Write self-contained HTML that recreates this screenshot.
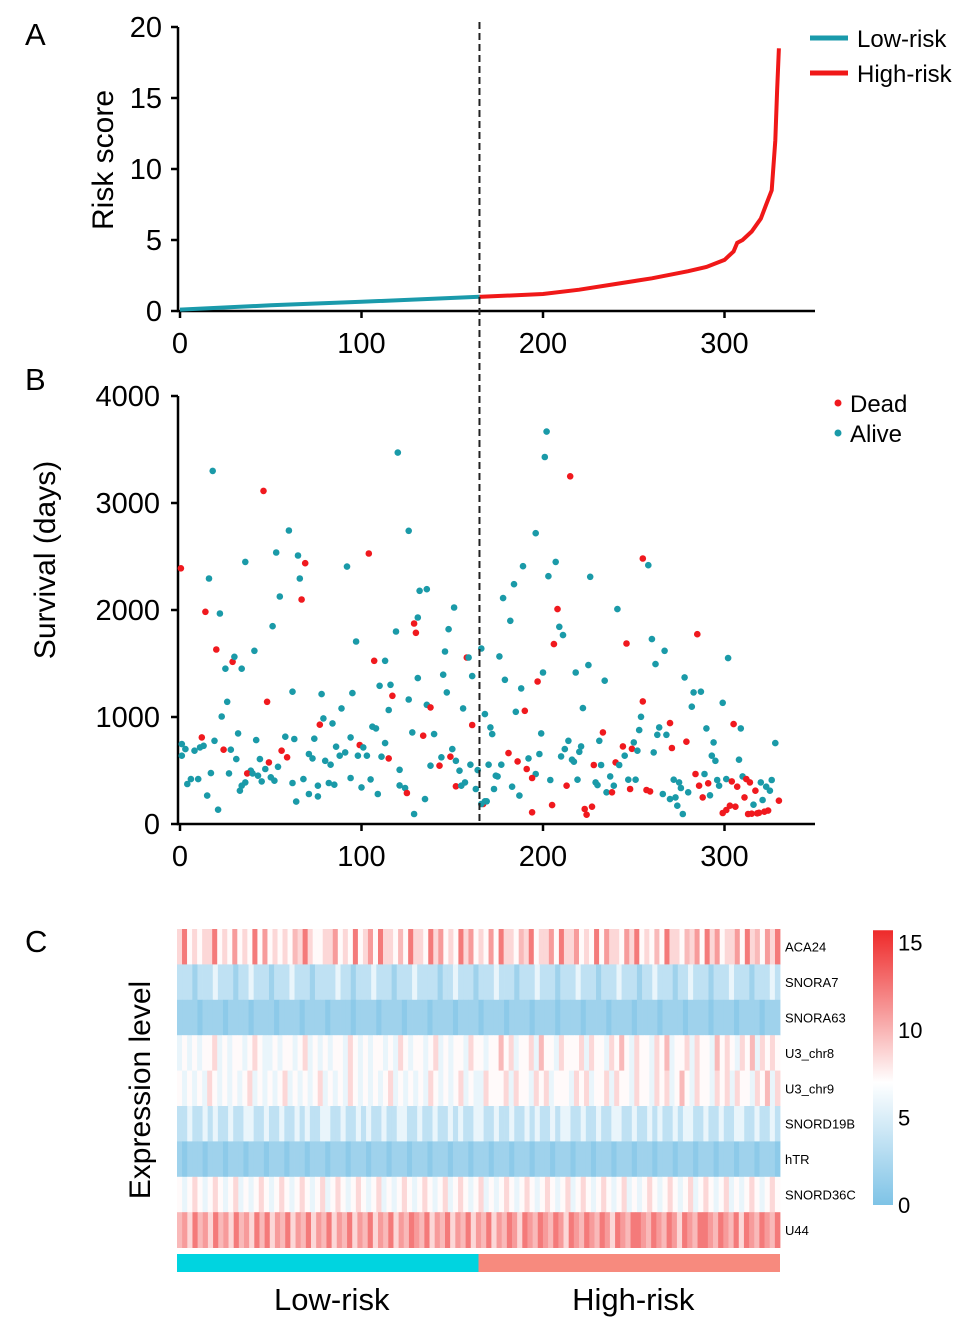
<!DOCTYPE html>
<html><head><meta charset="utf-8"><style>
html,body{margin:0;padding:0;background:#fff;}
svg{display:block;font-family:"Liberation Sans",Arial,sans-serif;}
</style></head><body>
<svg id="chart" width="969" height="1330" viewBox="0 0 969 1330" xmlns="http://www.w3.org/2000/svg">
<g id="gA"></g>
<g id="gB"></g>
<g id="gC"></g>
</svg>
<script>
// ---- Panel A data ----
const riskIdx = [0,50,100,165,166,200,220,240,260,280,290,300,305,307,310,315,320,323,326,328,329,330];
const riskScore = [0.1,0.4,0.65,1.0,1.0,1.2,1.5,1.9,2.3,2.8,3.1,3.6,4.2,4.8,5.0,5.6,6.5,7.5,8.5,12,15.5,18.5];
const cutoffIdx = 165;
const riskTicksY = [0,5,10,15,20];
const xTicks = [0,100,200,300];
// ---- Panel B data ----
const survIdx = [18,120,46,60,126,53,104,65,69,36,92,0.5,16,66,55,67,132,136,14,22,151,51,129,119,131,130,148,20,41,97,146,158,159,166,25,29,30,34,107,113,145,161,131,26,48,62,78,95,110,116,117,115,126,136,138,147,156,23,32,79,84,77,89,106,108,161,128,134,140,94,58,63,74,12,1,3,8,11,13,19,24,28,42,31,56,113,99,101,86,150,1,71,73,44,49,59,80,83,88,91,98,103,111,115,144,149,152,160,54,138,143,154,164,17,27,39,37,47,121,4,6,10,36,34,33,40,43,45,50,52,62,68,76,82,85,94,100,105,121,124,125,135,152,155,157,163,167,15,21,64,71,76,109,129,
202,201,215,196,255,258,189,207,203,226,184,178,208,241,182,209,206,211,246,260,285,267,262,302,176,218,225,179,197,200,234,188,278,283,287,282,299,185,190,222,255,254,168,171,172,199,233,253,270,264,263,268,305,309,290,231,214,212,210,221,220,216,217,250,249,252,244,245,271,279,294,328,293,295,308,261,181,198,186,192,191,170,177,174,175,196,194,204,228,232,240,242,229,230,237,235,238,239,219,213,247,251,248,257,259,272,275,276,266,270,273,274,277,280,284,289,286,291,288,292,296,297,301,304,307,310,312,314,317,320,323,325,326,321,311,316,330,299,301,303,306,313,315,318,319,322,324,224,223,227,205,194,187,183,173,168,169,166];
const survDays = [3300,3471,3113,2743,2740,2537,2528,2509,2437,2450,2406,2390,2294,2294,2126,2098,2179,2194,1983,1967,2023,1849,1874,1799,1930,1787,1821,1631,1619,1706,1612,1556,1556,1640,1451,1516,1563,1451,1525,1525,1395,1382,1364,1142,1142,1236,1214,1223,1292,1301,1198,1065,1164,1114,1090,1230,1080,1005,847,987,940,928,1080,909,893,925,856,825,840,809,816,794,797,809,747,700,685,716,731,778,694,694,784,607,685,756,738,716,722,700,638,654,613,607,576,623,591,554,638,669,638,638,629,613,623,629,591,554,535,545,545,498,504,476,473,498,473,514,507,374,420,420,389,358,311,473,451,398,436,405,383,420,358,383,367,430,342,417,361,336,290,233,352,358,389,327,187,265,134,209,280,258,280,93,
3667,3430,3250,2718,2481,2419,2409,2450,2316,2310,2241,2111,2008,2008,1899,1843,1681,1765,1687,1728,1774,1619,1494,1550,1566,1416,1485,1348,1332,1416,1339,1267,1370,1230,1236,1096,1133,1049,1058,1083,1146,1002,1027,903,840,847,856,878,943,903,834,834,934,893,893,778,778,700,632,725,675,601,582,763,703,685,725,638,710,769,763,756,638,591,601,669,663,654,585,613,514,554,554,451,445,467,430,411,551,551,576,551,389,364,445,296,296,358,414,358,414,414,327,318,305,414,389,336,280,233,249,171,93,296,467,467,358,380,249,268,411,358,420,398,349,445,420,389,311,389,349,311,411,224,249,180,218,103,131,171,162,93,96,100,105,115,125,87,140,162,177,109,265,349,327,212,212,187];
const survDead = "0010001010010001001000100101000100010010000010000010001000000100010100000100000010001010000000110000000101000010000010000000000000000000000010100010000000001010000000100010101000000010000000"+"001010000010100010000000000010101100000010101000001010100000100100111000000000101110000110111000001011111111111111110000000000111111111111";
const survTicksY = [0,1000,2000,3000,4000];
// ---- Panel C data ----
const genes = ["ACA24","SNORA7","SNORA63","U3_chr8","U3_chr9","SNORD19B","hTR","SNORD36C","U44"];
const exprRows = [
"584545584547454847454546585445574548457485546485548574548574547485546584557485574548475547584546485546574857455748564758",
"2221222322212232221222322212222322122232221222322221223222122232221222322212223222122232221223222122322212223222122232",
"1111011110111101111011110111101111011110111101111011110111101111011110111101111011110111101111011110111101111011110111",
"343434453434434543343443453434344354343443435434434534344354434464534453644354445354435464354435463445354436454354635454",
"434343543434345343434534343453434354343434534343435434345343354445354435453444354534453544354435453464354435453544354635",
"2232232322322332232232232322332232232322322332232232232322332232232232322323322322322332232232322323322322322332232232",
"1011101110111011101110111011101110111011101110111011101110111011101110111011101110111011101110111011101110111011101110",
"4345434543453434543454345434534543454345343454345434534543453434543454345434534543454345343454345434534543453434543454",
"675867586758675868576857685768576857685768576876857685768576857687587687687587687687587688768768758768876876858768768"
];
const digitValue = [0.8,1.8,3.5,5.8,7.2,8.6,9.8,11,12.3,14];
const cbarTicks = [0,5,10,15];
const groupLabels = ["Low-risk","High-risk"];

const NS="http://www.w3.org/2000/svg";
function mk(parent,tag,attrs,text){const e=document.createElementNS(NS,tag);for(const k in attrs)e.setAttribute(k,attrs[k]);if(text!==undefined)e.textContent=text;parent.appendChild(e);return e;}
const xS = i => 180 + i*1.815;
const yA = v => 311 - v*14.2;
const yB = d => 824 - d*0.107;
const TF = 29;

// ---------- Panel A ----------
const gA=document.getElementById('gA');
let t=mk(gA,'text',{x:25,y:45,'font-size':31});t.textContent='A';


let ax=mk(gA,'path',{d:'M178 27 V311 H815',fill:'none',stroke:'#000','stroke-width':2.5});


riskTicksY.forEach(v=>{
  mk(gA,'line',{x1:171,x2:178,y1:yA(v),y2:yA(v),stroke:'#000','stroke-width':2.5});
  const l=mk(gA,'text',{x:162,y:yA(v)+10,'font-size':TF,'text-anchor':'end'},String(v));
  
  
});
xTicks.forEach(v=>{
  mk(gA,'line',{x1:xS(v),x2:xS(v),y1:311,y2:318,stroke:'#000','stroke-width':2.5});
  const l=mk(gA,'text',{x:xS(v),y:353,'font-size':TF,'text-anchor':'middle'},String(v));
  
  
});
t=mk(gA,'text',{x:0,y:0,'font-size':30,'text-anchor':'middle',transform:'translate(113,160) rotate(-90)'},'Risk score');


let lowPts=[],highPts=[];
riskIdx.forEach((i,k)=>{const p=xS(i).toFixed(1)+','+yA(riskScore[k]).toFixed(1);if(i<=cutoffIdx)lowPts.push(p);if(i>=cutoffIdx)highPts.push(p);});
let ln=mk(gA,'polyline',{points:lowPts.join(' '),fill:'none',stroke:'#1a9aab','stroke-width':4});


ln=mk(gA,'polyline',{points:highPts.join(' '),fill:'none',stroke:'#f01818','stroke-width':4});


[['Low-risk','#1a9aab',38],['High-risk','#f01818',73]].forEach(([lab,c,y])=>{
  const g=mk(gA,'g',{});
  
  
  mk(g,'line',{x1:810,x2:848,y1:y,y2:y,stroke:c,'stroke-width':5});
  mk(g,'text',{x:857,y:y+9,'font-size':24},lab);
});

// cutoff line
let cl=mk(document.getElementById('chart'),'line',{x1:xS(cutoffIdx),x2:xS(cutoffIdx),y1:22,y2:824,stroke:'#222','stroke-width':2,'stroke-dasharray':'7,4'});



// ---------- Panel B ----------
const gB=document.getElementById('gB');
t=mk(gB,'text',{x:25,y:390,'font-size':31},'B');


ax=mk(gB,'path',{d:'M178 396 V824 H815',fill:'none',stroke:'#000','stroke-width':2.5});


survTicksY.forEach(v=>{
  mk(gB,'line',{x1:171,x2:178,y1:yB(v),y2:yB(v),stroke:'#000','stroke-width':2.5});
  const l=mk(gB,'text',{x:160,y:yB(v)+10,'font-size':TF,'text-anchor':'end'},String(v));
  
  
});
xTicks.forEach(v=>{
  mk(gB,'line',{x1:xS(v),x2:xS(v),y1:824,y2:831,stroke:'#000','stroke-width':2.5});
  const l=mk(gB,'text',{x:xS(v),y:866,'font-size':TF,'text-anchor':'middle'},String(v));
  
  
});
t=mk(gB,'text',{x:0,y:0,'font-size':30,'text-anchor':'middle',transform:'translate(55,560) rotate(-90)'},'Survival (days)');


survIdx.forEach((i,k)=>{
  const dead=survDead[k]==='1';
  const c=mk(gB,'circle',{cx:xS(i).toFixed(1),cy:yB(survDays[k]).toFixed(1),r:3.3,fill:dead?'#f0191e':'#1a9aa8'});
  
  
});
[['Dead','#f0191e',403],['Alive','#1a9aa8',433]].forEach(([lab,c,y])=>{
  const g=mk(gB,'g',{});
  
  
  mk(g,'circle',{cx:838,cy:y,r:3.5,fill:c});
  mk(g,'text',{x:850,y:y+9,'font-size':24},lab);
});

// ---------- Panel C ----------
const gC=document.getElementById('gC');
t=mk(gC,'text',{x:25,y:952,'font-size':31},'C');


t=mk(gC,'text',{x:0,y:0,'font-size':30,'text-anchor':'middle',transform:'translate(150,1090) rotate(-90)'},'Expression level');


function lerp(a,b,f){return a.map((v,i)=>Math.round(v+(b[i]-v)*f));}
function colorOf(v){
  const blue=[126,195,230],white=[255,255,255],red=[238,42,42];
  let c= v<7 ? lerp(blue,white,Math.max(0,v)/7) : lerp(white,red,Math.min(1,(v-7)/8.5));
  return 'rgb('+c.join(',')+')';
}
const hx0=177,hx1=780,hy0=929,rowH=35.4;
exprRows.forEach((row,r)=>{
  const w=(hx1-hx0)/row.length;
  for(let c=0;c<row.length;c++){
    const cell=mk(gC,'rect',{x:(hx0+c*w).toFixed(2),y:(hy0+r*rowH).toFixed(2),width:(w+0.4).toFixed(2),height:rowH+0.4,fill:colorOf(digitValue[+row[c]])});
    
    
  }
  const l=mk(gC,'text',{x:785,y:hy0+r*rowH+rowH/2+5,'font-size':13},genes[r]);
  
  
});
// colorbar
const defs=mk(gC,'defs',{});
const lg=mk(defs,'linearGradient',{id:'cb',x1:0,y1:1,x2:0,y2:0});
[0,3.5,7,11,15.7].forEach(v=>mk(lg,'stop',{offset:(v/15.7).toFixed(3),'stop-color':colorOf(v)}));
const cbY=v=>1205 - v*17.5;
let cb=mk(gC,'rect',{x:873,y:cbY(15.7),width:20,height:15.7*17.5,fill:'url(#cb)'});


cbarTicks.forEach(v=>{
  const l=mk(gC,'text',{x:898,y:cbY(v)+8,'font-size':22},String(v));
  
  
});
// group bar
const splitX=hx0+(hx1-hx0)*cutoffIdx/330;
let gb=mk(gC,'rect',{x:hx0,y:1254,width:splitX-hx0,height:18,fill:'#00d4e0'});


gb=mk(gC,'rect',{x:splitX,y:1254,width:hx1-splitX,height:18,fill:'#f78a7e'});


[[ (hx0+splitX)/2, groupLabels[0]],[(splitX+hx1)/2, groupLabels[1]]].forEach(([x,lab])=>{
  const l=mk(gC,'text',{x:x+4,y:1310,'font-size':31,'text-anchor':'middle'},lab);
  
  
});
</script>
</body></html>
